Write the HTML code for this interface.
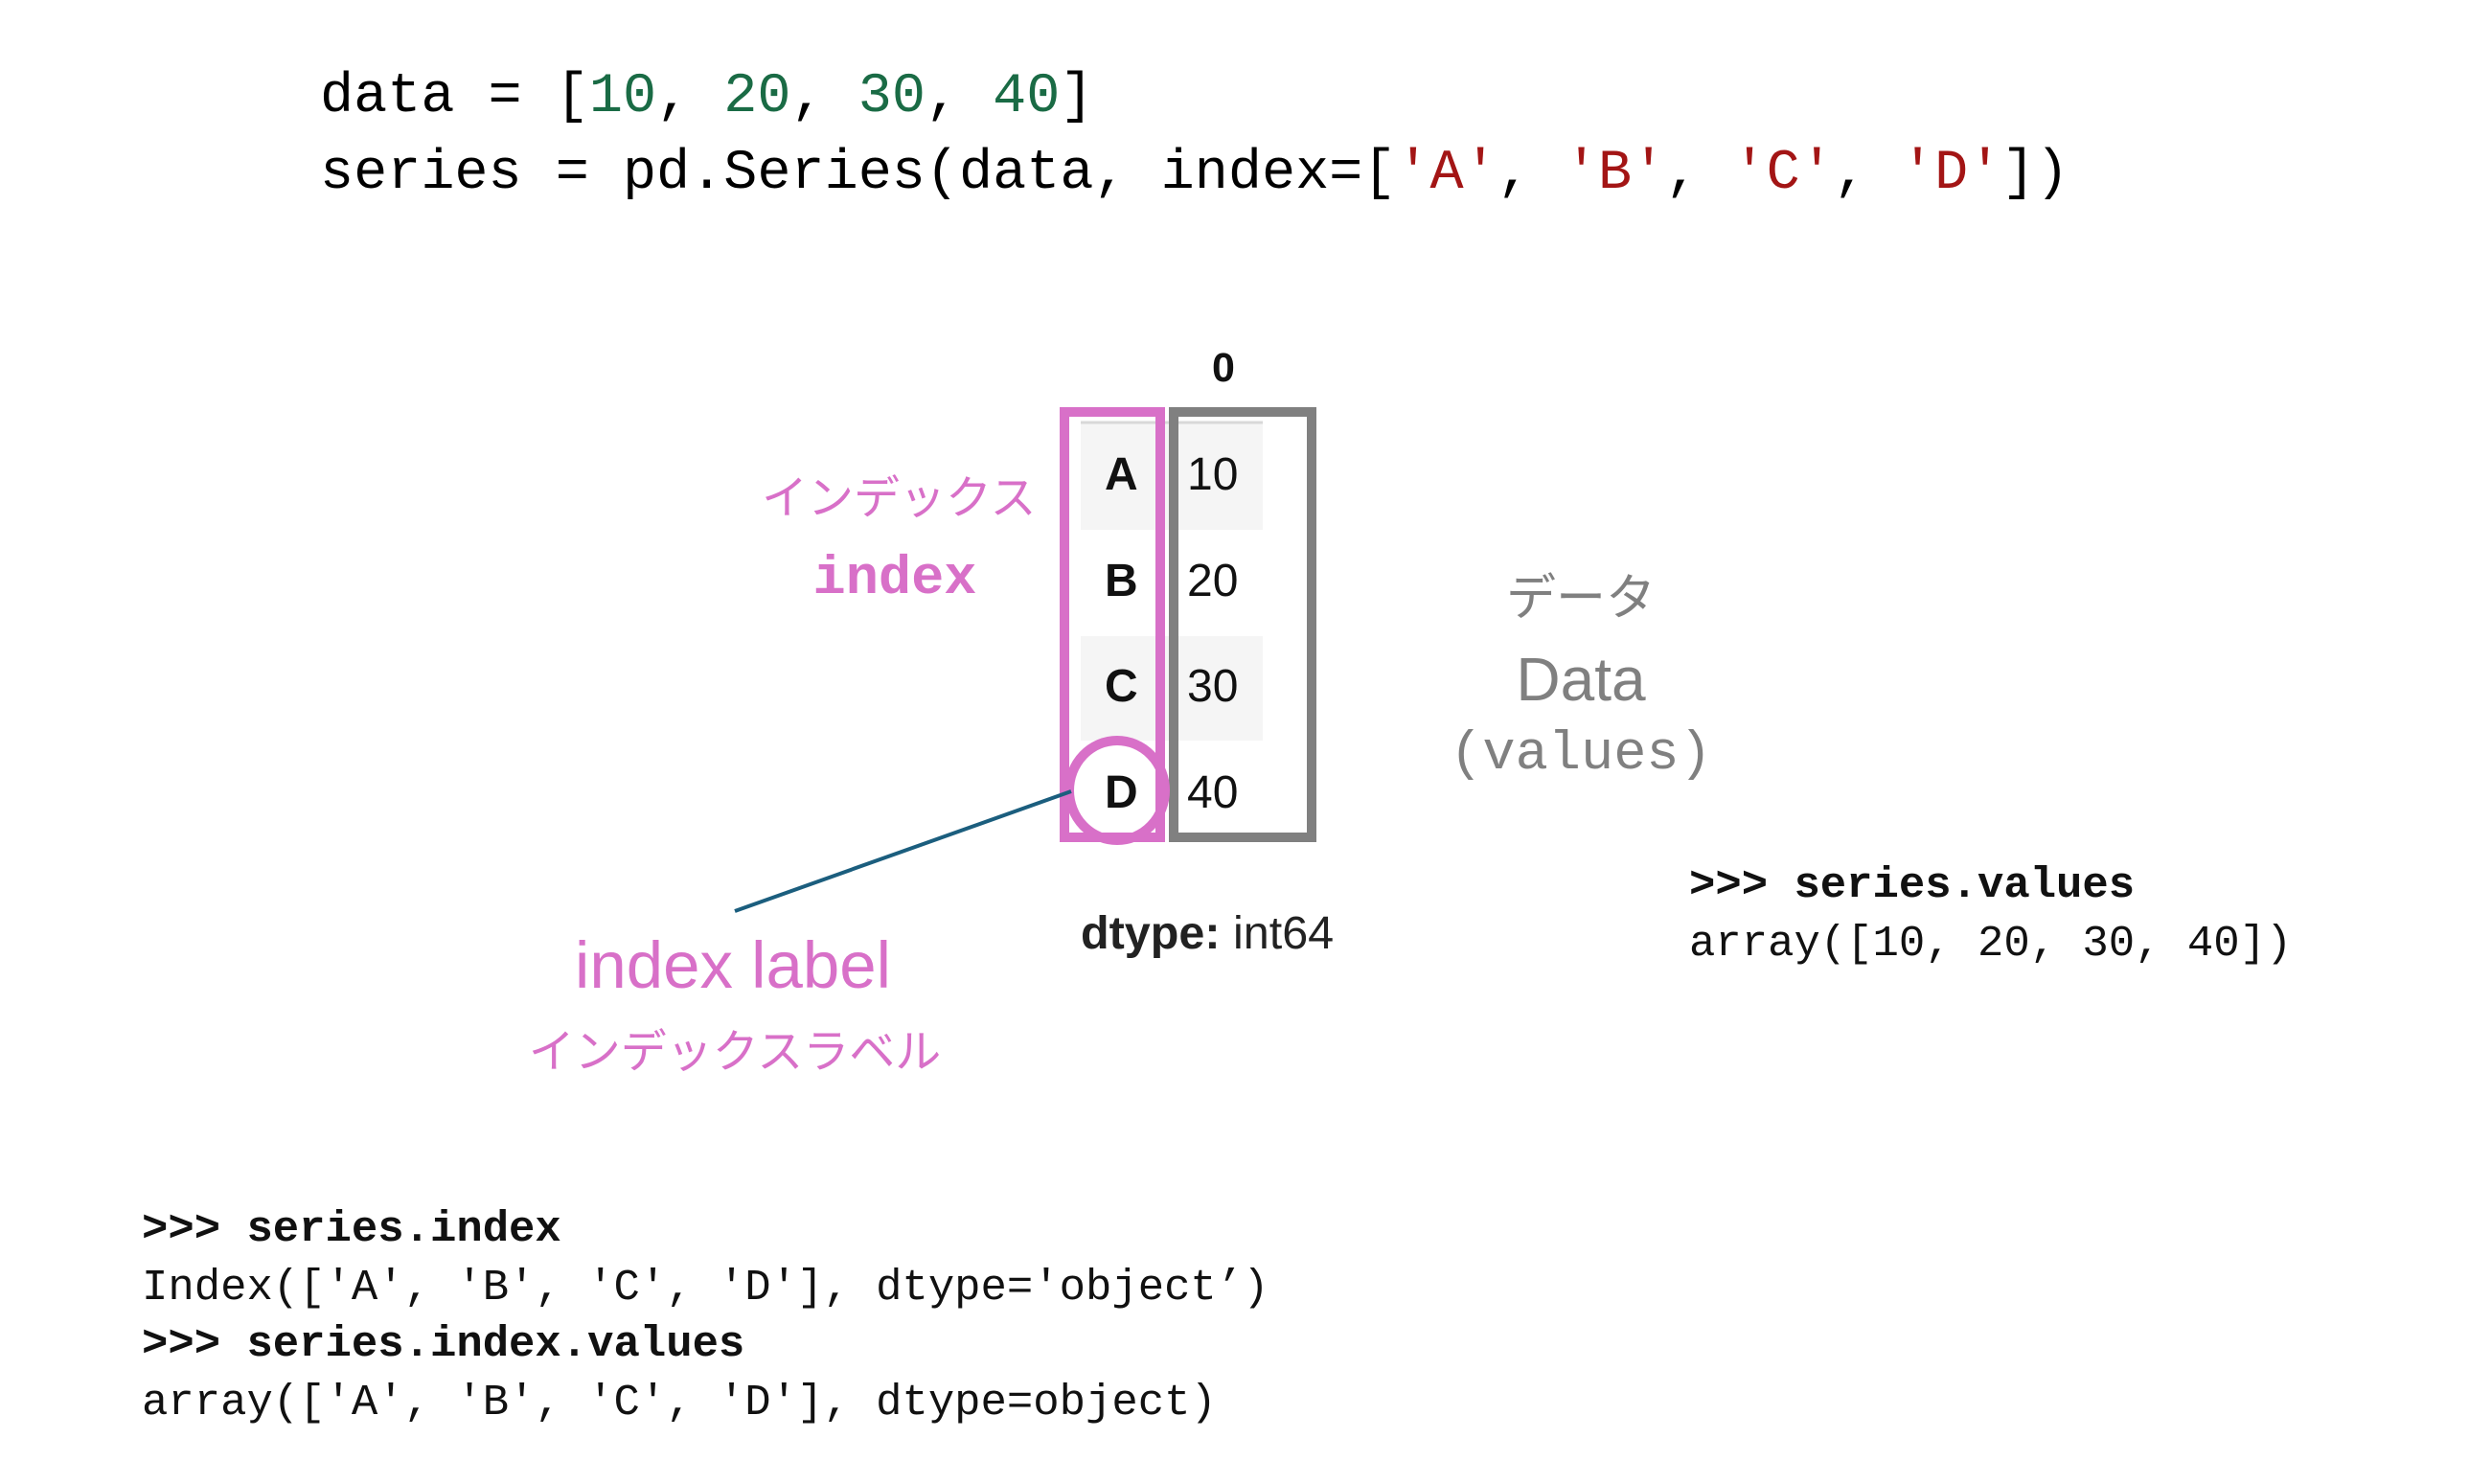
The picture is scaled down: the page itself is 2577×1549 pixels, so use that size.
<!DOCTYPE html>
<html><head><meta charset="utf-8"><style>
body{margin:0;width:2577px;height:1549px;background:#fff;position:relative;overflow:hidden}
.t{position:absolute;white-space:pre}
.m{font-family:"Liberation Mono",monospace}
.s{font-family:"Liberation Sans",Arial,sans-serif}
.j{font-family:"Liberation Sans","Noto Sans CJK JP",sans-serif;font-weight:normal}
.g{color:#1a6b45}.r{color:#a31515}
.pk{color:#d870c8}.gr{color:#808080}
</style></head><body>
<div class="t m" style="left:334px;top:71px;font-size:58.5px;line-height:60px">data = [<span class="g">10</span>, <span class="g">20</span>, <span class="g">30</span>, <span class="g">40</span>]</div>
<div class="t m" style="left:334px;top:151px;font-size:58.5px;line-height:60px">series = pd.Series(data, index=[<span class="r">'A'</span>, <span class="r">'B'</span>, <span class="r">'C'</span>, <span class="r">'D'</span>])</div>

<svg width="2577" height="1549" style="position:absolute;left:0;top:0">
<rect x="1128" y="440" width="190" height="113" fill="#f5f5f5"/>
<rect x="1128" y="664" width="190" height="109" fill="#f5f5f5"/>
<line x1="1128" y1="441" x2="1318" y2="441" stroke="#d8d8d8" stroke-width="3"/>
<rect x="1111" y="430" width="100" height="444" fill="none" stroke="#d870c8" stroke-width="10"/>
<rect x="1225" y="430" width="144" height="444" fill="none" stroke="#808080" stroke-width="10"/>
<ellipse cx="1166" cy="825" rx="50" ry="52" fill="none" stroke="#d870c8" stroke-width="10"/>
<line x1="1118" y1="826" x2="767" y2="951" stroke="#1b5e7e" stroke-width="4"/>
</svg>

<div class="t s" style="left:1265px;top:362px;font-size:43px;line-height:44px;font-weight:bold;color:#111">0</div>
<div class="t s" style="left:1153px;top:471px;font-size:48px;line-height:50px;font-weight:bold;color:#111">A</div>
<div class="t s" style="left:1153px;top:582px;font-size:48px;line-height:50px;font-weight:bold;color:#111">B</div>
<div class="t s" style="left:1153px;top:692px;font-size:48px;line-height:50px;font-weight:bold;color:#111">C</div>
<div class="t s" style="left:1153px;top:803px;font-size:48px;line-height:50px;font-weight:bold;color:#111">D</div>
<div class="t s" style="left:1239px;top:471px;font-size:48px;line-height:50px;color:#111">10</div>
<div class="t s" style="left:1239px;top:582px;font-size:48px;line-height:50px;color:#111">20</div>
<div class="t s" style="left:1239px;top:692px;font-size:48px;line-height:50px;color:#111">30</div>
<div class="t s" style="left:1239px;top:803px;font-size:48px;line-height:50px;color:#111">40</div>
<div class="t s" style="left:1128px;top:949px;font-size:48.5px;line-height:50px;color:#222"><b>dtype:</b> int64</div>

<div class="t j pk" style="left:795px;top:490px;font-size:48px;line-height:62px;width:276px;text-align:center">インデックス</div>
<div class="t m pk" style="left:834px;top:575px;font-size:57px;line-height:60px;font-weight:bold;width:200px;text-align:center">index</div>

<div class="t j gr" style="left:1500px;top:594px;font-size:52px;line-height:62px;width:300px;text-align:center">データ</div>
<div class="t s gr" style="left:1500px;top:674px;font-size:64px;line-height:70px;width:300px;text-align:center">Data</div>
<div class="t m gr" style="left:1450px;top:758px;font-size:57px;line-height:60px;width:400px;text-align:center">(values)</div>

<div class="t s pk" style="left:515px;top:970px;font-size:69px;line-height:76px;width:500px;text-align:center">index label</div>
<div class="t j pk" style="left:517px;top:1068px;font-size:48px;line-height:62px;width:500px;text-align:center">インデックスラベル</div>

<div class="t m" style="left:1763px;top:898px;font-size:45.6px;line-height:52px;color:#111"><b>&gt;&gt;&gt; series.values</b></div>
<div class="t m" style="left:1763px;top:959px;font-size:45.6px;line-height:52px;color:#111">array([10, 20, 30, 40])</div>

<div class="t m" style="left:148px;top:1257px;font-size:45.6px;line-height:52px;color:#111"><b>&gt;&gt;&gt; series.index</b></div>
<div class="t m" style="left:148px;top:1318px;font-size:45.6px;line-height:52px;color:#111">Index(['A', 'B', 'C', 'D'], dtype='object’)</div>
<div class="t m" style="left:148px;top:1377px;font-size:45.6px;line-height:52px;color:#111"><b>&gt;&gt;&gt; series.index.values</b></div>
<div class="t m" style="left:148px;top:1438px;font-size:45.6px;line-height:52px;color:#111">array(['A', 'B', 'C', 'D'], dtype=object)</div>
</body></html>
